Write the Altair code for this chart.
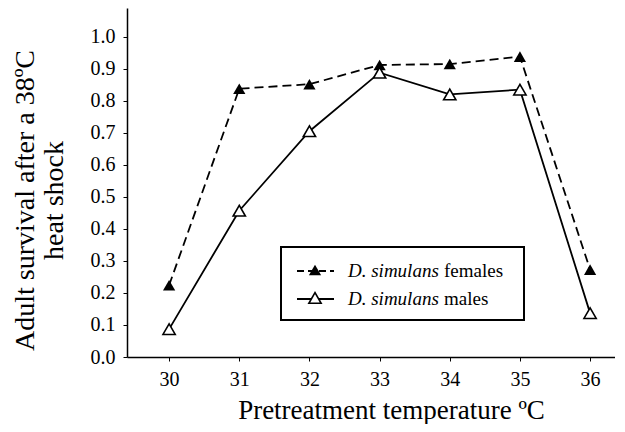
import altair as alt
import pandas as pd

temps = [30, 31, 32, 33, 34, 35, 36]
females = [0.224, 0.838, 0.852, 0.912, 0.915, 0.938, 0.273]
males = [0.087, 0.457, 0.705, 0.888, 0.820, 0.835, 0.137]
y_ticks = [0.0, 0.1, 0.2, 0.3, 0.4, 0.5, 0.6, 0.7, 0.8, 0.9, 1.0]
series_names = ["D. simulans females", "D. simulans males"]

df = pd.DataFrame({
    "temp": temps * 2,
    "surv": females + males,
    "series": [series_names[0]] * len(temps) + [series_names[1]] * len(temps),
})

SERIF = "Liberation Serif"

x_enc = alt.X("temp:Q",
              scale=alt.Scale(domain=[29.4, 36.355], nice=False, zero=False),
              axis=alt.Axis(values=temps, format="d",
                            title="Pretreatment temperature ºC",
                            titleX=264, titleY=61, titleBaseline="alphabetic",
                            titleAlign="center", titleAnchor="start",
                            titleFontSize=27, labelPadding=8))
y_enc = alt.Y("surv:Q",
              scale=alt.Scale(domain=[0, 1.09], nice=False),
              axis=alt.Axis(values=y_ticks, format=".1f",
                            title=["Adult survival after a 38ºC", "heat shock"],
                            titleX=-94, titleY=192, titleAngle=270,
                            titleBaseline="alphabetic", titleAlign="center",
                            titleAnchor="start", titleLineHeight=29,
                            titleFontSize=28, labelPadding=8))

fem = df[df.series == series_names[0]]
mal = df[df.series == series_names[1]]

line_f = alt.Chart(fem).mark_line(color="black", strokeWidth=1.8, strokeDash=[9, 5]).encode(x=x_enc, y=y_enc)
line_m = alt.Chart(mal).mark_line(color="black", strokeWidth=1.8).encode(x=x_enc, y=y_enc)
pt_f = alt.Chart(fem).mark_point(shape="triangle-up", size=150, filled=True, color="black",
                                 opacity=1).encode(x=x_enc, y=y_enc)
pt_m = alt.Chart(mal).mark_point(shape="triangle-up", size=150, filled=True, fill="white",
                                 stroke="black", strokeWidth=1.6, opacity=1).encode(x=x_enc, y=y_enc)

# legend (decoration)
leg_df = pd.DataFrame({"a": [0]})
box = alt.Chart(leg_df).mark_rect(fill="white", stroke="black", strokeWidth=2).encode(
    x=alt.value(154), x2=alt.value(397), y=alt.value(239), y2=alt.value(312))
lf = alt.Chart(leg_df).mark_rule(color="black", strokeWidth=1.8, strokeDash=[7, 4]).encode(
    x=alt.value(170), x2=alt.value(207), y=alt.value(263))
lm = alt.Chart(leg_df).mark_rule(color="black", strokeWidth=1.8).encode(
    x=alt.value(170), x2=alt.value(207), y=alt.value(291))
pf = alt.Chart(leg_df).mark_point(shape="triangle-up", size=150, filled=True, color="black", opacity=1).encode(
    x=alt.value(188), y=alt.value(262))
pm = alt.Chart(leg_df).mark_point(shape="triangle-up", size=150, filled=True, fill="white",
                                  stroke="black", strokeWidth=1.6, opacity=1).encode(
    x=alt.value(188), y=alt.value(290))
tf1 = alt.Chart(leg_df).mark_text(text="D. simulans", font=SERIF, fontSize=19, fontStyle="italic",
                                  align="left", baseline="middle", color="black").encode(
    x=alt.value(221), y=alt.value(263))
tf2 = alt.Chart(leg_df).mark_text(text="females", font=SERIF, fontSize=19,
                                  align="left", baseline="middle", color="black").encode(
    x=alt.value(317), y=alt.value(263))
tm1 = alt.Chart(leg_df).mark_text(text="D. simulans", font=SERIF, fontSize=19, fontStyle="italic",
                                  align="left", baseline="middle", color="black").encode(
    x=alt.value(221), y=alt.value(291))
tm2 = alt.Chart(leg_df).mark_text(text="males", font=SERIF, fontSize=19,
                                  align="left", baseline="middle", color="black").encode(
    x=alt.value(317), y=alt.value(291))

chart = alt.layer(line_f, line_m, pt_f, pt_m, box, lf, lm, pf, pm, tf1, tf2, tm1, tm2).properties(
    width=488, height=349,
    autosize=alt.AutoSizeParams(type="none"),
    padding={"left": 119, "top": 0, "right": 0, "bottom": 67},
).configure_view(stroke=None).configure_axis(
    grid=False, domainColor="black", domainWidth=1.5, tickColor="black", tickSize=4,
    labelFont=SERIF, labelFontSize=20, labelColor="black",
    titleFont=SERIF, titleFontWeight="normal", titleColor="black",
)

chart.save("out.html", embed_options={"renderer": "svg", "actions": False})
